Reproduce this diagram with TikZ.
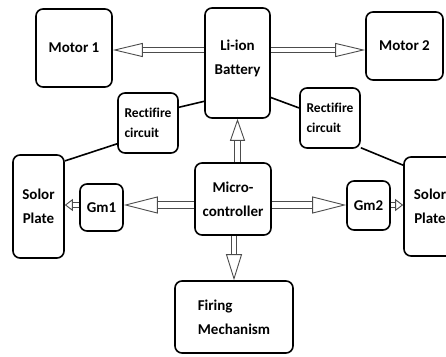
\documentclass[tikz,border=0pt]{standalone}
\usepackage{fontspec}
\setmainfont{Carlito}[Ligatures=CommonOff]
\usetikzlibrary{arrows.meta,positioning}

\begin{document}
\begin{tikzpicture}[x=1pt, y=-1pt, every node/.style={font=\bfseries\fontsize{15}{24}\selectfont},
  box/.style={draw, line width=1.6pt, rounded corners=7pt, align=center, inner sep=2pt},
  small/.style={box, align=left, font=\bfseries\fontsize{13.5}{20}\selectfont},
  link/.style={line width=1.6pt},
  hollow/.style={double, double distance=4.5pt, line width=0.9pt, draw=black!70, -{Triangle[open, length=30pt, width=14pt]}}]
\useasboundingbox (0,0) rectangle (446,356);
\clip (0,0) rectangle (446,356);
% top row
\node[box, minimum width=76pt, minimum height=78pt] (motor1) at (74,48) {Motor 1};
\node[box, minimum width=65pt, minimum height=110pt, text depth=12pt] (battery) at (237.5,63) {Li-ion\\Battery};
\node[box, minimum width=77pt, minimum height=68pt] (motor2) at (404.5,46) {Motor 2};
% rectifiers
\node[small, minimum width=60pt, minimum height=60pt] (rectL) at (148,123) {Rectifire\\circuit};
\node[small, minimum width=60pt, minimum height=60pt] (rectR) at (330,118) {Rectifire\\circuit};
% middle row
\node[box, minimum width=51pt, minimum height=103pt] (solorL) at (38.5,206.5) {Solor\\Plate};
\node[box, minimum width=43pt, minimum height=47pt] (gm1) at (101.5,207.5) {Gm1};
\node[box, minimum width=76pt, minimum height=72pt] (micro) at (233,199) {Micro-\\controller};
\node[box, minimum width=43pt, minimum height=49pt] (gm2) at (368.5,205.5) {Gm2};
\node[box, minimum width=52pt, minimum height=99pt] (solorR) at (430,206.5) {Solor\\Plate};
% bottom
\node[box, align=left, minimum width=118pt, minimum height=72pt] (firing) at (234,317) {Firing\\Mechanism};
% plain links
\draw[link] (battery.229) -- (rectL.27);
\draw[link] (rectL.214) -- (solorL.60);
\draw[link] (battery.314) -- (rectR.162);
\draw[link] (rectR.316) -- (solorR.123);
% arrows
\draw[hollow] (battery.west |- 0,50) -- (motor1.east |- 0,50);
\draw[hollow] (battery.east |- 0,50) -- (motor2.west |- 0,50);
\draw[hollow, -{Triangle[open, length=22pt, width=15pt]}] (battery.south |- micro.north) -- (battery.south);
\draw[hollow, -{Triangle[open, length=26pt, width=16pt]}] (micro.south -| firing.north) -- (firing.north);
\draw[hollow, double distance=6pt, -{Triangle[open, length=34pt, width=17pt]}] (micro.west |- 0,205) -- (gm1.east |- 0,205);
\draw[hollow, double distance=6pt, -{Triangle[open, length=34pt, width=17pt]}] (micro.east |- 0,205) -- (gm2.west |- 0,205);
\draw[hollow, -{Triangle[open, length=8pt, width=12pt]}] (gm1.west |- 0,205) -- (solorL.east |- 0,205);
\draw[hollow, -{Triangle[open, length=8pt, width=12pt]}] (gm2.east |- 0,205) -- (solorR.west |- 0,205);
\end{tikzpicture}
\end{document}
